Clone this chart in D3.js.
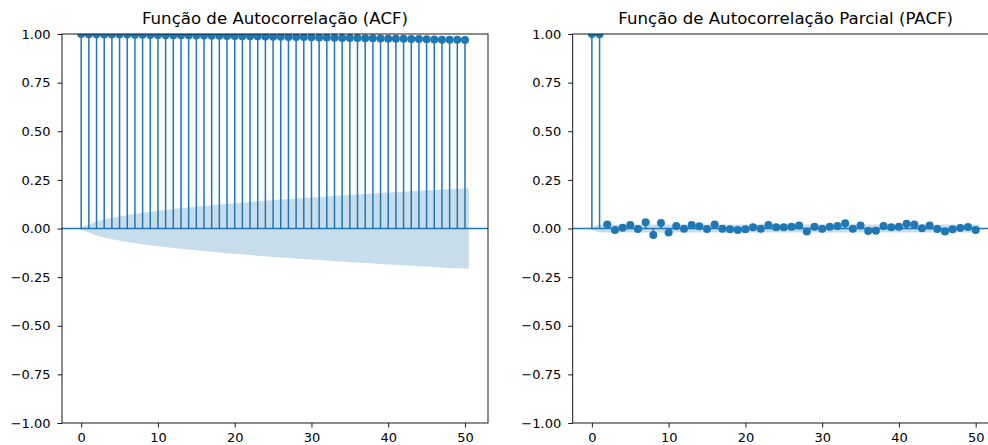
<!DOCTYPE html>
<html>
<head>
<meta charset="utf-8">
<script src="https://cdn.jsdelivr.net/npm/d3@7"></script>
<style>
  body { margin: 0; background: #fff; }
  text { font-family: "DejaVu Sans", sans-serif; fill: #000; }
</style>
</head>
<body>
<div id="chart"></div>
<script>
// lags 0..50
var lags = d3.range(0, 51);

// ACF values
var acfValues = [1.000, 0.999, 0.999, 0.998, 0.998, 0.997, 0.997, 0.996, 0.996, 0.995,
    0.995, 0.994, 0.994, 0.993, 0.993, 0.992, 0.992, 0.991, 0.991, 0.990,
    0.990, 0.989, 0.988, 0.988, 0.987, 0.986, 0.986, 0.985, 0.984, 0.984,
    0.983, 0.982, 0.982, 0.981, 0.980, 0.980, 0.979, 0.978, 0.978, 0.977,
    0.976, 0.976, 0.975, 0.974, 0.974, 0.973, 0.972, 0.971, 0.971, 0.970,
    0.969];

// ACF confidence band half width (Bartlett), lag 0 has no band
var acfConf = [0.000, 0.021, 0.036, 0.047, 0.055, 0.062, 0.069, 0.075, 0.081, 0.086,
    0.091, 0.095, 0.100, 0.104, 0.108, 0.112, 0.116, 0.119, 0.123, 0.127,
    0.130, 0.133, 0.136, 0.140, 0.143, 0.146, 0.149, 0.151, 0.154, 0.157,
    0.160, 0.162, 0.165, 0.168, 0.170, 0.173, 0.175, 0.178, 0.180, 0.183,
    0.185, 0.187, 0.189, 0.192, 0.194, 0.196, 0.198, 0.201, 0.203, 0.205,
    0.207];

// PACF values
var pacfValues = [1.000, 0.999, 0.021, -0.008, 0.004, 0.018, -0.003, 0.032, -0.033, 0.028,
    -0.020, 0.013, -0.001, 0.018, 0.011, -0.003, 0.021, -0.001, -0.004, -0.008,
    -0.004, 0.006, -0.001, 0.018, 0.006, 0.006, 0.009, 0.016, -0.015, 0.009,
    -0.001, 0.009, 0.013, 0.027, -0.001, 0.016, -0.013, -0.011, 0.013, 0.006,
    0.009, 0.025, 0.020, 0.001, 0.016, -0.003, -0.015, -0.004, 0.003, 0.008,
    -0.008];

// PACF confidence band half width (constant)
var pacfConf = lags.map(function(d) { return d === 0 ? 0 : 0.021; });

var titles = ["Função de Autocorrelação (ACF)", "Função de Autocorrelação Parcial (PACF)"];
var yTicks = [-1.00, -0.75, -0.50, -0.25, 0.00, 0.25, 0.50, 0.75, 1.00];
var xTicks = [0, 10, 20, 30, 40, 50];

var blue = "#1f77b4";
var W = 988, H = 445;

var svg = d3.select("#chart").append("svg")
    .attr("width", W)
    .attr("height", H);

function drawPanel(idx, left, values, conf, title) {
    var top = 34, bottom = 423, width = 426;
    var x = d3.scaleLinear().domain([-2.5, 53]).range([left, left + width]);
    var y = d3.scaleLinear().domain([-1, 1]).range([bottom, top]);

    var clipId = "clip" + idx;
    svg.append("clipPath").attr("id", clipId)
      .append("rect")
        .attr("x", left).attr("y", top)
        .attr("width", width).attr("height", bottom - top);

    var g = svg.append("g").attr("clip-path", "url(#" + clipId + ")");

    // confidence band, lag edges pushed out by half a lag
    var band = lags.map(function(d, i) {
        var lx = d;
        if (i === 0) lx = d - 0.5;
        if (i === lags.length - 1) lx = d + 0.5;
        return {lag: lx, c: conf[i]};
    });
    var area = d3.area()
        .x(function(d) { return x(d.lag); })
        .y0(function(d) { return y(-d.c); })
        .y1(function(d) { return y(d.c); });
    g.append("path")
        .datum(band)
        .attr("d", area)
        .attr("fill", blue)
        .attr("fill-opacity", 0.25);

    // zero line across the axes
    g.append("line")
        .attr("x1", left).attr("x2", left + width)
        .attr("y1", y(0)).attr("y2", y(0))
        .attr("stroke", blue).attr("stroke-width", 1.5);

    // stems
    g.selectAll(".stem")
        .data(lags)
        .enter().append("line")
        .attr("x1", function(d) { return x(d); })
        .attr("x2", function(d) { return x(d); })
        .attr("y1", y(0))
        .attr("y2", function(d, i) { return y(values[i]); })
        .attr("stroke", blue)
        .attr("stroke-width", 1.5);

    // markers
    g.selectAll(".dot")
        .data(lags)
        .enter().append("circle")
        .attr("cx", function(d) { return x(d); })
        .attr("cy", function(d, i) { return y(values[i]); })
        .attr("r", 4)
        .attr("fill", blue);

    // axes
    var xAxis = svg.append("g")
        .attr("transform", "translate(0," + bottom + ")")
        .call(d3.axisBottom(x).tickValues(xTicks).tickSize(4.5).tickPadding(5).tickFormat(d3.format("d")));
    var yAxis = svg.append("g")
        .attr("transform", "translate(" + left + ",0)")
        .call(d3.axisLeft(y).tickValues(yTicks).tickSize(4.5).tickPadding(7)
            .tickFormat(function(d) { return d3.format(".2f")(d).replace("-", "\u2212"); }));
    [xAxis, yAxis].forEach(function(a) {
        a.select(".domain").remove();
        a.selectAll("line").attr("stroke", "#000").attr("stroke-width", 0.9);
        a.selectAll("text").attr("font-size", "13px").attr("fill", "#000")
            .style("font-family", "'DejaVu Sans', sans-serif");
    });

    // frame
    svg.append("rect")
        .attr("x", left).attr("y", top)
        .attr("width", width).attr("height", bottom - top)
        .attr("fill", "none")
        .attr("stroke", "#000")
        .attr("stroke-width", 0.9);

    // title
    svg.append("text")
        .attr("x", left + width / 2)
        .attr("y", 24)
        .attr("text-anchor", "middle")
        .attr("font-size", "16.6px")
        .text(title);
}

drawPanel(0, 62, acfValues, acfConf, titles[0]);
drawPanel(1, 572.7, pacfValues, pacfConf, titles[1]);
</script>
</body>
</html>
